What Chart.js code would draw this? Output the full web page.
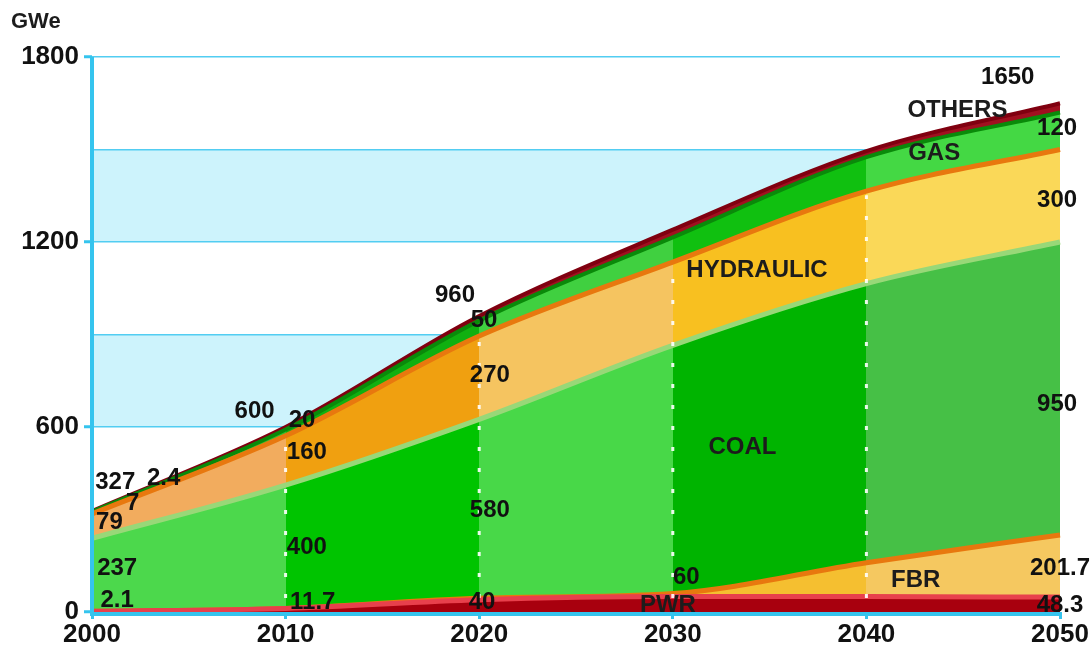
<!DOCTYPE html>
<html>
<head>
<meta charset="utf-8">
<script src="https://cdn.jsdelivr.net/npm/chart.js@4.4.1/dist/chart.umd.min.js"></script>
<style>
  html, body { margin: 0; padding: 0; background: #fff; }
  #contenedor { width: 1090px; height: 650px; position: relative; }
</style>
</head>
<body>
<div id="contenedor"><canvas id="capacidadChart"></canvas></div>
<script>
// Datos (GWe)
const anios = ['2000', '2010', '2020', '2030', '2040', '2050'];
const pwr = [2.1, 11.7, 40, 50, 50, 48.3];
const fbr = [0, 0, 5, 10, 110, 201.7];
const carbon = [237, 400, 580, 805, 905, 950];
const hidraulica = [79, 160, 270, 270, 300, 300];
const gas = [7, 20, 50, 80, 110, 120];
const otros = [2.4, 8.3, 15, 25, 20, 30];
const ticksY = [0, 600, 1200, 1800];

// Textos sobre el gráfico: [texto, año, valor]
const etiquetas = [
    ['327', 2001.2, 422], ['7', 2002.1, 353], ['2.4', 2003.7, 435], ['79', 2000.9, 292],
    ['237', 2001.3, 143], ['2.1', 2001.3, 39],
    ['600', 2008.4, 652], ['20', 2010.85, 623], ['160', 2011.1, 519], ['400', 2011.1, 208], ['11.7', 2011.4, 32],
    ['960', 2018.75, 1028], ['50', 2020.25, 947], ['270', 2020.55, 769], ['580', 2020.55, 331], ['40', 2020.15, 32],
    ['60', 2030.7, 113],
    ['1650', 2047.3, 1735], ['120', 2049.85, 1570], ['300', 2049.85, 1336], ['950', 2049.85, 675],
    ['201.7', 2050, 140], ['48.3', 2050, 23]
];
const nombres = [
    ['PWR', 2029.75, 22], ['FBR', 2042.55, 104], ['COAL', 2033.6, 535],
    ['HYDRAULIC', 2034.35, 1109], ['GAS', 2043.5, 1489], ['OTHERS', 2044.7, 1628]
];

const fuente = "Arial, 'Liberation Sans', sans-serif";
const cian = '#35c4ee';

// Degradado horizontal con franjas por década
function franjas(colores) {
    return function(context) {
        const chart = context.chart;
        const area = chart.chartArea;
        if (!area || !chart.scales.x) return colores[0];
        const x = chart.scales.x;
        const w = area.right - area.left;
        const g = chart.ctx.createLinearGradient(area.left, 0, area.right, 0);
        for (let i = 0; i < colores.length; i++) {
            const a = Math.max(0, (x.getPixelForValue(i) - area.left) / w);
            const b = Math.min(1, (x.getPixelForValue(i + 1) - area.left) / w);
            g.addColorStop(a, colores[i]);
            g.addColorStop(b, colores[i]);
        }
        return g;
    };
}

function anioAPixel(scale, anio) {
    const i = (anio - 2000) / 10;
    const p0 = scale.getPixelForValue(0);
    const p1 = scale.getPixelForValue(1);
    return p0 + (p1 - p0) * i;
}

const fondoYTextos = {
    id: 'fondoYTextos',
    beforeDraw(chart) {
        const { ctx, chartArea, scales } = chart;
        ctx.save();
        ctx.fillStyle = '#cdf3fc';
        for (let v = 0; v < 1800; v += 600) {
            const top = scales.y.getPixelForValue(v + 300);
            const bot = scales.y.getPixelForValue(v);
            ctx.fillRect(chartArea.left, top, chartArea.right - chartArea.left, bot - top);
        }
        ctx.restore();
    },
    afterDatasetsDraw(chart) {
        const { ctx, chartArea, scales } = chart;
        ctx.save();
        // líneas punteadas blancas en cada década
        const metaH = chart.getDatasetMeta(3);
        ctx.strokeStyle = 'rgba(255,255,255,0.9)';
        ctx.lineWidth = 3;
        ctx.setLineDash([4, 17]);
        for (let i = 1; i < anios.length - 1; i++) {
            const px = scales.x.getPixelForValue(i);
            ctx.beginPath();
            ctx.moveTo(px, chartArea.bottom - 14);
            ctx.lineTo(px, metaH.data[i].y + 4);
            ctx.stroke();
        }
        ctx.setLineDash([]);
        // ejes
        ctx.strokeStyle = cian;
        ctx.lineWidth = 4;
        ctx.beginPath();
        ctx.moveTo(chartArea.left, chartArea.top);
        ctx.lineTo(chartArea.left, chartArea.bottom + 2);
        ctx.lineTo(chartArea.right, chartArea.bottom + 2);
        ctx.stroke();
        // textos
        ctx.textAlign = 'center';
        ctx.textBaseline = 'middle';
        ctx.fillStyle = '#111';
        ctx.font = 'bold 24px ' + fuente;
        etiquetas.forEach(([t, a, v]) => {
            ctx.fillText(t, anioAPixel(scales.x, a), scales.y.getPixelForValue(v));
        });
        ctx.fillStyle = '#1c1c1c';
        ctx.font = 'bold 24px ' + fuente;
        nombres.forEach(([t, a, v]) => {
            ctx.fillText(t, anioAPixel(scales.x, a), scales.y.getPixelForValue(v));
        });
        // unidad
        ctx.textAlign = 'left';
        ctx.font = 'bold 22px ' + fuente;
        ctx.fillText('GWe', 11, 22);
        ctx.restore();
    }
};

function serie(nombre, datos, fondo, borde, ancho, relleno) {
    return {
        label: nombre,
        data: datos,
        backgroundColor: fondo,
        borderColor: borde,
        borderWidth: ancho,
        fill: relleno,
        pointRadius: 0,
        cubicInterpolationMode: 'monotone'
    };
}

const ctx = document.getElementById('capacidadChart').getContext('2d');
const capacidadChart = new Chart(ctx, {
    type: 'line',
    data: {
        labels: anios,
        datasets: [
            serie('PWR', pwr, '#a8000e', '#e8404c', 5, 'origin'),
            serie('FBR', fbr, franjas(['#f0b860', '#f0b050', '#f4c050', '#f5bf30', '#f5c860']), '#e8780e', 5, '-1'),
            serie('COAL', carbon, franjas(['#4cd84c', '#00c400', '#48d848', '#00b400', '#46c046']), '#98d878', 5, '-1'),
            serie('HYDRAULIC', hidraulica, franjas(['#f2ac5e', '#f0a010', '#f5c460', '#f8c020', '#fad858']), '#e8780e', 5, '-1'),
            serie('GAS', gas, franjas(['#30c030', '#10b010', '#40d040', '#10c010', '#44d844']), '#0a8a0a', 4, '-1'),
            serie('OTHERS', otros, '#a01020', '#800010', 4, '-1')
        ]
    },
    options: {
        responsive: true,
        maintainAspectRatio: false,
        animation: false,
        layout: { padding: { top: 57, right: 30, left: 0, bottom: 0 } },
        plugins: {
            legend: { display: false },
            tooltip: { enabled: false }
        },
        scales: {
            x: {
                stacked: true,
                afterFit: (s) => { s.height = 38; },
                border: { display: false },
                grid: { drawOnChartArea: false, drawTicks: true, tickLength: 7, color: cian, lineWidth: 3 },
                ticks: { color: '#111', font: { family: fuente, size: 26, weight: 'bold' }, padding: 0, maxRotation: 0 }
            },
            y: {
                stacked: true,
                min: 0,
                max: 1800,
                afterFit: (s) => { s.width = 92; },
                border: { display: false },
                grid: {
                    color: (c) => c.tick.value === 0 ? 'rgba(0,0,0,0)' : '#52cdf2',
                    lineWidth: 1.5,
                    tickLength: 8,
                    tickColor: (c) => ticksY.includes(c.tick.value) ? cian : 'rgba(0,0,0,0)',
                    tickWidth: 3
                },
                ticks: {
                    stepSize: 300,
                    color: '#111',
                    padding: 5,
                    font: { family: fuente, size: 26, weight: 'bold' },
                    callback: (v) => ticksY.includes(v) ? v : ''
                }
            }
        }
    },
    plugins: [fondoYTextos]
});
</script>
</body>
</html>
